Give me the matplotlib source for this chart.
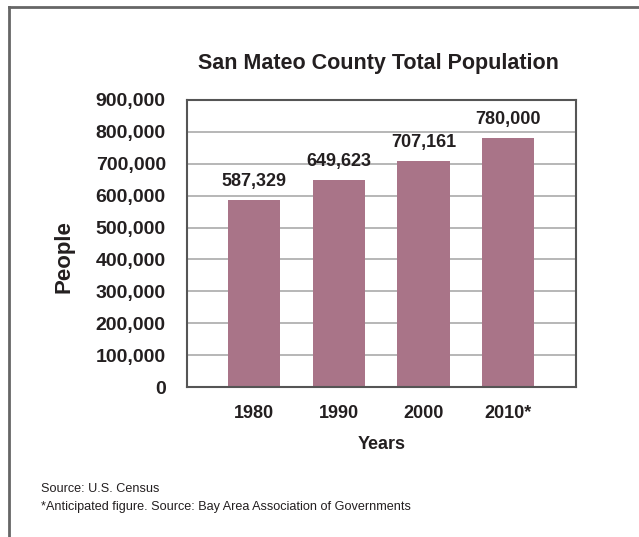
import matplotlib.pyplot as plt
from matplotlib.lines import Line2D
from matplotlib import font_manager

years = ["1980", "1990", "2000", "2010*"]
population = [587329, 649623, 707161, 780000]
value_labels = ["587,329", "649,623", "707,161", "780,000"]
yticks = list(range(0, 900001, 100000))

bar_color = "#a97488"
text_color = "#231f20"

names = {f.name for f in font_manager.fontManager.ttflist}
narrow = "Liberation Sans Narrow" if "Liberation Sans Narrow" in names else "Liberation Sans"
plt.rcParams["font.family"] = ["Liberation Sans", "DejaVu Sans"]

fig = plt.figure(figsize=(6.39, 5.37), dpi=100)
ax = fig.add_axes([0.292, 0.2793, 0.609, 0.5345])

x = list(range(len(years)))
ax.bar(x, population, width=0.62, color=bar_color, zorder=2)
for xi, v, lab in zip(x, population, value_labels):
    ax.text(xi, v + 58000, lab, ha="center", va="center", fontsize=13,
            fontweight="bold", color=text_color)

ax.set_xlim(-0.8, 3.8)
ax.set_ylim(0, 900000)
ax.set_yticks(yticks)
ax.set_yticklabels([f"{t:,}" for t in yticks])
ax.set_xticks(x)
ax.set_xticklabels(years)
ax.tick_params(axis="both", length=0, colors=text_color)
ax.tick_params(axis="y", pad=15, labelsize=14)
ax.tick_params(axis="x", pad=13, labelsize=13)
for lab in ax.get_xticklabels() + ax.get_yticklabels():
    lab.set_fontweight("bold")
ax.yaxis.grid(True, color="#aaaaaa", linewidth=1.2, zorder=1)
for s in ax.spines.values():
    s.set_color("#555555")
    s.set_linewidth(1.5)

ax.set_xlabel("Years", fontsize=13, fontweight="bold", color=text_color, labelpad=10)
ax.set_ylabel("People", fontsize=16, fontweight="bold", color=text_color)
ax.yaxis.set_label_coords(-0.288, 0.455)

fig.text(0.593, 0.881, "San Mateo County Total Population", ha="center", va="center",
         fontsize=15.5, fontweight="bold", color=text_color)

fig.text(0.064, 0.089, "Source: U.S. Census", fontsize=9.1, color=text_color,
         family=narrow, va="center")
fig.text(0.064, 0.056, "*Anticipated figure. Source: Bay Area Association of Governments",
         fontsize=9.1, color=text_color, family=narrow, va="center")

# outer frame: top and left edges
fig.add_artist(Line2D([0.014, 0.014], [0.0, 0.987], transform=fig.transFigure,
                      color="#666666", linewidth=2))
fig.add_artist(Line2D([0.014, 1.0], [0.987, 0.987], transform=fig.transFigure,
                      color="#666666", linewidth=2))

fig.savefig("out.png", dpi=100)
